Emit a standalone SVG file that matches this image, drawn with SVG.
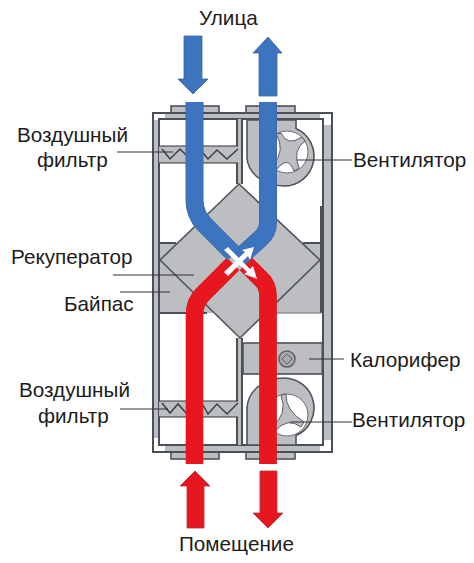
<svg xmlns="http://www.w3.org/2000/svg" width="474" height="563" viewBox="0 0 474 563">
<style>
text{font-family:"Liberation Sans",Arial,sans-serif;font-size:20.7px;fill:#1c1c1c}
.f{stroke:#4a5058;stroke-width:2;fill:none}
.g{fill:#bcbec1}
.gs{fill:#bcbec1;stroke:#4f545b;stroke-width:1.6}
.l{stroke:#333;stroke-width:1.2;fill:none}
.z{stroke:#3a3f46;stroke-width:1.5;fill:none}
.pb{fill:none;stroke:#3f6496;stroke-width:18}
.blue{fill:none;stroke:#3c74bf;stroke-width:17}
.pr{fill:none;stroke:#c22a30;stroke-width:17.6}
.red{fill:none;stroke:#e8171f;stroke-width:17}
.ba{fill:#3c74bf;stroke:#3f6496;stroke-width:.8}
.ra{fill:#e8171f;stroke:#a8383c;stroke-width:.8}
.bl{fill:#bcbec1;stroke:#555a60;stroke-width:1}
</style>
<rect width="474" height="563" fill="#fff"/>
<g id="housing">
<rect class="gs" x="171" y="106" width="48" height="7"/>
<rect class="gs" x="246" y="106" width="49" height="7"/>
<rect class="gs" x="171" y="452" width="48" height="7"/>
<rect class="gs" x="246" y="452" width="49" height="7"/>
<rect class="g" x="154" y="120" width="5" height="318"/>
<rect class="g" x="324" y="125" width="7" height="315"/>
<rect class="g" x="165" y="114" width="155" height="5"/>
<rect class="g" x="165" y="446" width="155" height="6"/>
<path class="f" d="M153 113H332V452H153Z"/>
<path class="f" d="M159 119H323V445H159Z"/>
<rect class="g" x="238" y="119" width="4" height="65"/>
<rect class="g" x="238" y="338" width="4" height="107"/>
<path class="f" d="M237 119V184M242 119V184M237 338V445M242 338V445"/>
<path class="f" d="M321 206V313"/>
</g>
<g id="recuperator">
<rect class="g" x="160" y="243" width="160" height="70"/>
<path class="gs" d="M239 184L320 260L240 338L160 260Z"/>
<path class="f" d="M160 243H176M303 243H320M160 313H207"/>
<path stroke="#8d9096" stroke-width="1.5" d="M274 313H321" fill="none"/>
</g>
<g id="filter-top">
<rect class="g" x="159" y="146" width="79" height="17"/>
<path class="l" d="M159 146H238M159 163H238"/>
<path class="z" d="M162 149L170 159L180 149L186 155M203 153L208 159L217 150L227 159L238 149"/>
</g>
<g id="filter-bottom">
<rect class="g" x="159" y="401" width="79" height="16"/>
<path class="l" d="M159 401H238M159 417H238"/>
<path class="z" d="M162 403L170 413L178 404L186 413M203 405L208 414L217 404L227 414L238 403"/>
</g>
<g id="fan-top">
<path class="gs" d="M247 120V158C248 172 262 186 284 186A30 30 0 0 0 296 128.500V120Z"/>
<circle cx="287" cy="152" r="21" fill="#fff" stroke="#6a6e74"/>
<path class="bl" d="M276 134L281 133Q287 147 302 137L305 141Q292 150 299 168L294 171Q288 155 277 169L273 165Q286 150 276 134Z"/>
</g>
<g id="fan-bottom">
<path class="gs" d="M247 445V408C248 392 262 378 284 378A30 30 0 0 1 296 435.500V445Z"/>
<circle cx="287" cy="415" r="21" fill="#fff" stroke="#6a6e74"/>
<path class="bl" d="M281 395L286 394Q285 410 304 422L301 427Q288 417 276 430L272 426Q288 415 281 395Z"/>
</g>
<g id="heater">
<rect class="gs" x="243" y="343" width="80" height="31"/>
<path class="f" d="M322.500 343V374"/>
<circle cx="287" cy="359" r="8" fill="#a8aaae" stroke="#5c6066" stroke-width="1.5"/>
<path d="M287 354L292 359L287 364L282 359Z" fill="none" stroke="#5c6066"/>
</g>
<g id="connectors">
<path class="pr" d="M194.500 464V315Q194.500 302 203 294L233 264"/>
<path class="pr" d="M268 464V296Q268 285 261 279L246 264"/>
<path class="red" d="M194.500 464V315Q194.500 302 203 294L233 264"/>
<path class="red" d="M268 464V296Q268 285 261 279L246 264"/>
<path class="pb" d="M194.500 102V200Q194.500 214 204 224L234 254"/>
<path class="pb" d="M268 102V222Q268 232 261 238L238 259"/>
<path class="blue" d="M194.500 102V200Q194.500 214 204 224L234 254"/>
<path class="blue" d="M268 102V222Q268 232 261 238L238 259"/>
<path d="M228 247L250 269L253 266L257 279L244 274L247 272L224 250Z" fill="#fff"/>
<path d="M224 272L245 252L242 250L254 247L250 260L248 256L228 276Z" fill="#fff"/>
<path class="l" d="M117 152H173M113 275H194M120 292H170M297 160H352M309 359H344M290 422H352M120 409H168"/>
</g>
<g id="arrows">
<path class="ba" d="M184 36H202V79H208L193 94L178 79H184Z"/>
<path class="ba" d="M259 96V53H253L268 37L282 53H277V96Z"/>
<path class="ra" d="M187 528V486H180L195 471L210 486H204V528Z"/>
<path class="ra" d="M260 471H277V513H283L268 528L253 513H260Z"/>
</g>
<g id="labels">
<text x="199" y="25">Улица</text>
<text x="17" y="142">Воздушный</text>
<text x="37" y="167">фильтр</text>
<text x="353" y="167">Вентилятор</text>
<text x="11" y="264">Рекуператор</text>
<text x="64" y="311">Байпас</text>
<text x="350" y="367">Калорифер</text>
<text x="19" y="397">Воздушный</text>
<text x="38" y="423">фильтр</text>
<text x="352" y="427">Вентилятор</text>
<text x="179" y="551">Помещение</text>
</g>
</svg>
